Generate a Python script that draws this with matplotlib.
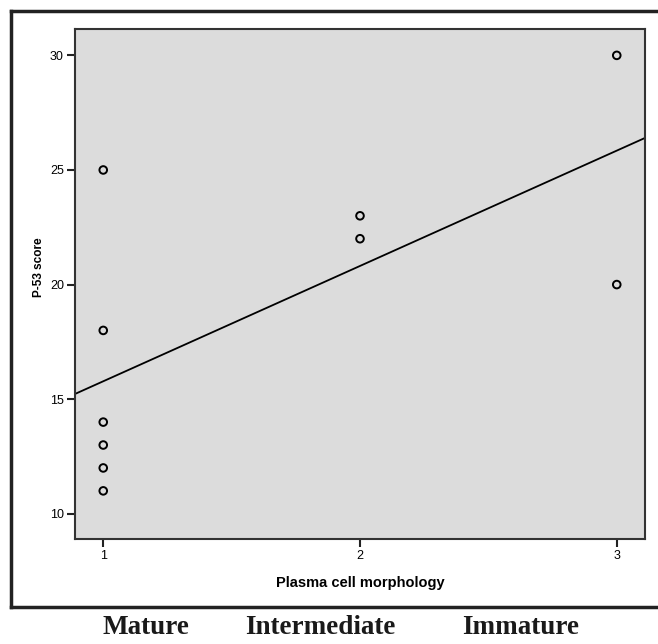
import matplotlib
matplotlib.use('Agg')
import matplotlib.pyplot as plt
from matplotlib.lines import Line2D
import numpy as np

# data
morphology = [1, 1, 1, 1, 1, 1, 2, 2, 3, 3]
p53_score = [25, 18, 14, 13, 12, 11, 23, 22, 30, 20]
x_ticks = [1, 2, 3]
y_ticks = [10, 15, 20, 25, 30]
categories = ['Mature', 'Intermediate', 'Immature']

plt.rcParams['font.family'] = ['Liberation Sans Narrow', 'Liberation Sans', 'DejaVu Sans']

W, H = 658, 644
fig = plt.figure(figsize=(W / 100, H / 100), dpi=100)
fig.patch.set_facecolor('white')

ax = fig.add_axes([75 / W, 1 - 539 / H, 570 / W, 510 / H])
ax.set_facecolor('#dcdcdc')

ax.scatter(morphology, p53_score, s=30, facecolors='none', edgecolors='black',
           linewidths=1.4, zorder=3)

# linear fit line across the whole axis
xlim = (0.89, 3.11)
slope, intercept = np.polyfit(morphology, p53_score, 1)
xs = np.array(xlim)
ax.plot(xs, slope * xs + intercept, color='black', lw=1.3, zorder=2)

ax.set_xlim(*xlim)
ax.set_ylim(8.9, 31.15)
ax.set_xticks(x_ticks)
ax.set_yticks(y_ticks)
ax.tick_params(direction='out', length=6, width=1.5, labelsize=9, pad=2, color='#222')
for sp in ax.spines.values():
    sp.set_linewidth(1.5)
    sp.set_color('#333')

ax.set_xlabel('Plasma cell morphology', fontsize=10.5, fontweight='bold',
              family=['Liberation Sans', 'DejaVu Sans'], va='center')
ax.set_ylabel('P-53 score', fontsize=8.5, fontweight='bold',
              family=['Liberation Sans', 'DejaVu Sans'], va='center')
ax.xaxis.set_label_coords(0.5, -0.086)
ax.yaxis.set_label_coords(-0.063, 0.533)

# outer frame (right side runs off the picture)
frame_kw = dict(color='#222', lw=2.5, transform=fig.transFigure, clip_on=False)
fig.add_artist(Line2D([11 / W, 11 / W], [1 - 11 / H, 1 - 607 / H], **frame_kw))
fig.add_artist(Line2D([11 / W, 1.01], [1 - 11 / H, 1 - 11 / H], **frame_kw))
fig.add_artist(Line2D([11 / W, 1.01], [1 - 607 / H, 1 - 607 / H], **frame_kw))

# category names under the frame
cat_x = [146, 320, 521]
for name, cx in zip(categories, cat_x):
    fig.text(cx / W, 1 - 628 / H, name, ha='center', va='center', fontsize=19.5,
             fontweight='bold', family=['Liberation Serif', 'DejaVu Serif'], color='#1a1a1a')

plt.savefig('out.png', dpi=100)
plt.close()
